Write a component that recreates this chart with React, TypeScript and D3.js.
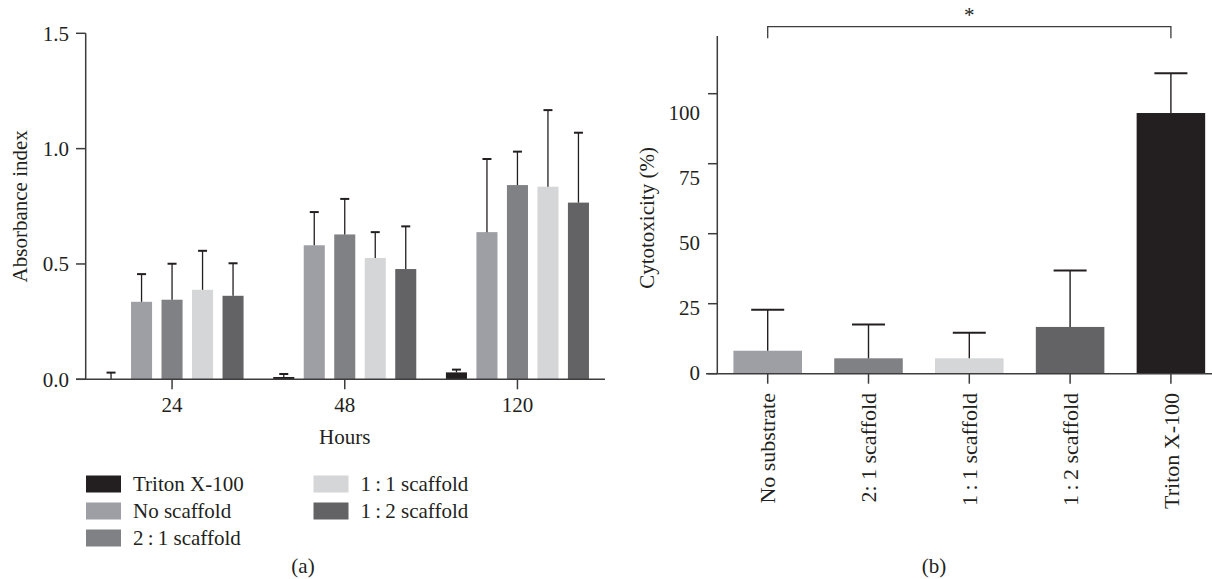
import React from "react";
import * as d3 from "d3";

// ---------- Panel (a) data ----------
const hours = ["24", "48", "120"];
const seriesA = ["Triton X-100", "No scaffold", "2:1 scaffold", "1:1 scaffold", "1:2 scaffold"];
const legendLabelsA = ["Triton X-100", "No scaffold", "2\u2009:\u20091 scaffold", "1\u2009:\u20091 scaffold", "1\u2009:\u20092 scaffold"];
const colorsA = ["#231f20", "#9d9fa5", "#808184", "#d5d6d8", "#636365"];
// mean values per hour for each series
const meanTriton = [0.0, 0.01, 0.03];
const meanNoScaffold = [0.336, 0.581, 0.638];
const mean21 = [0.345, 0.628, 0.842];
const mean11 = [0.388, 0.526, 0.835];
const mean12 = [0.362, 0.478, 0.766];
// upper error bar tops
const errTriton = [0.029, 0.023, 0.042];
const errNoScaffold = [0.456, 0.725, 0.955];
const err21 = [0.501, 0.782, 0.987];
const err11 = [0.557, 0.638, 1.167];
const err12 = [0.503, 0.663, 1.069];
const yTicksA = [0, 0.5, 1.0, 1.5];

// ---------- Panel (b) data ----------
const categoriesB = ["No substrate", "2: 1 scaffold", "1\u2009:\u20091 scaffold", "1\u2009:\u20092 scaffold", "Triton X-100"];
const colorsB = ["#9d9fa5", "#808184", "#d5d6d8", "#636365", "#231f20"];
const valuesB = [8.2, 5.5, 5.5, 16.7, 93.1];
const errTopB = [22.8, 17.6, 14.6, 36.9, 107.3];
const yTicksB = [0, 25, 50, 75, 100];

const FONT = "'Liberation Serif', 'Times New Roman', serif";
const TXT = "#231f20";
const AX = "#3c3c3c";

export default function App() {
  const meansA = [meanTriton, meanNoScaffold, mean21, mean11, mean12];
  const errsA = [errTriton, errNoScaffold, err21, err11, err12];

  // Panel (a) scales
  const yA = d3.scaleLinear().domain([0, 1.5]).range([379.3, 33.3]);
  const xG = d3.scaleBand().domain(hours).range([85.7, 603.8]).padding(0);
  const innerW = xG.bandwidth() * 0.883;
  const xS = d3.scaleBand().domain(seriesA).range([0, innerW]).paddingInner(0.31).paddingOuter(0.155);
  const groupStart = (h: string) => (xG(h) as number) + xG.bandwidth() / 2 - innerW / 2;

  // Panel (b) scales
  const yB = d3.scaleLinear().domain([0, 100]).range([373.7, 93.7]);
  const yBLabel = d3.scaleLinear().domain([0, 100]).range([373, 113]);
  const xB = d3.scaleBand().domain(categoriesB).range([717.3, 1221.3]).paddingInner(0.32).paddingOuter(0.16);
  const cB = (c: string) => (xB(c) as number) + xB.bandwidth() / 2;

  const fs = 21;

  return (
    <svg width={1212} height={579} style={{ position: "absolute", left: 0, top: 0, background: "#fff" }} fontFamily={FONT}>
      {/* ===== Panel (a) ===== */}
      <g>
        {seriesA.map((s, si) =>
          hours.map((h, hi) => {
            const x0 = groupStart(h) + (xS(s) as number);
            const w = xS.bandwidth();
            const v = meansA[si][hi];
            const e = errsA[si][hi];
            const cx = x0 + w / 2;
            return (
              <g key={s + h}>
                <rect x={x0} y={yA(v)} width={w} height={Math.max(0, yA(0) - yA(v))} fill={colorsA[si]} />
                <line x1={cx} x2={cx} y1={yA(v)} y2={yA(e)} stroke={TXT} strokeWidth={1.3} />
                <line x1={cx - 4.5} x2={cx + 4.5} y1={yA(e)} y2={yA(e)} stroke={TXT} strokeWidth={2} />
              </g>
            );
          })
        )}
        {/* y axis */}
        <line x1={85.7} x2={85.7} y1={yA(1.5)} y2={yA(0)} stroke={AX} strokeWidth={1.5} />
        {yTicksA.map((t) => (
          <g key={t}>
            <line x1={76} x2={85.7} y1={yA(t)} y2={yA(t)} stroke={AX} strokeWidth={1.5} />
            <text x={69} y={yA(t)} dy="0.35em" textAnchor="end" fontSize={fs} fill={TXT}>
              {d3.format(".1f")(t)}
            </text>
          </g>
        ))}
        {/* x axis */}
        <line x1={76} x2={605} y1={yA(0)} y2={yA(0)} stroke={AX} strokeWidth={1.5} />
        {hours.map((h) => {
          const cx = (xG(h) as number) + xG.bandwidth() / 2;
          return (
            <g key={h}>
              <line x1={cx} x2={cx} y1={yA(0)} y2={yA(0) + 10} stroke={AX} strokeWidth={1.5} />
              <text x={cx} y={412} textAnchor="middle" fontSize={fs} fill={TXT}>
                {h}
              </text>
            </g>
          );
        })}
        <text x={(xG("48") as number) + xG.bandwidth() / 2} y={444} textAnchor="middle" fontSize={fs} fill={TXT}>
          Hours
        </text>
        <text transform={`translate(27,${(yA(0) + yA(1.5)) / 2}) rotate(-90)`} textAnchor="middle" fontSize={fs} fill={TXT}>
          Absorbance index
        </text>
        {/* legend */}
        {seriesA.map((s, i) => {
          const col = i < 3 ? 0 : 1;
          const row = i < 3 ? i : i - 3;
          const lx = col === 0 ? 86 : 313.5;
          const ly = 484 + row * 27;
          return (
            <g key={s}>
              <rect x={lx} y={ly - 8.5} width={35} height={17} fill={colorsA[i]} />
              <text x={lx + 47} y={ly} dy="0.33em" fontSize={fs} fill={TXT}>
                {legendLabelsA[i]}
              </text>
            </g>
          );
        })}
        <text x={303} y={573} textAnchor="middle" fontSize={fs} fill={TXT}>
          (a)
        </text>
      </g>

      {/* ===== Panel (b) ===== */}
      <g>
        {categoriesB.map((c, i) => {
          const x0 = xB(c) as number;
          const w = xB.bandwidth();
          const cx = cB(c);
          return (
            <g key={c}>
              <rect x={x0} y={yB(valuesB[i])} width={w} height={yB(0) - yB(valuesB[i])} fill={colorsB[i]} />
              <line x1={cx} x2={cx} y1={yB(valuesB[i])} y2={yB(errTopB[i])} stroke={TXT} strokeWidth={1.4} />
              <line x1={cx - 16.5} x2={cx + 16.5} y1={yB(errTopB[i])} y2={yB(errTopB[i])} stroke={TXT} strokeWidth={2} />
            </g>
          );
        })}
        {/* y axis */}
        <line x1={717.3} x2={717.3} y1={36} y2={yB(0)} stroke={AX} strokeWidth={1.5} />
        {yTicksB.map((t) => (
          <g key={t}>
            <line x1={708} x2={717.3} y1={yB(t)} y2={yB(t)} stroke={AX} strokeWidth={1.5} />
            <text x={700} y={yBLabel(t)} dy="0.35em" textAnchor="end" fontSize={fs} fill={TXT}>
              {t}
            </text>
          </g>
        ))}
        {/* x axis */}
        <line x1={706} x2={1212} y1={yB(0)} y2={yB(0)} stroke={AX} strokeWidth={1.5} />
        {categoriesB.map((c) => {
          const cx = cB(c);
          return (
            <g key={c}>
              <line x1={cx} x2={cx} y1={yB(0)} y2={yB(0) + 10} stroke={AX} strokeWidth={1.5} />
              <text transform={`translate(${cx},${393}) rotate(-90)`} dy="0.35em" textAnchor="end" fontSize={22} fill={TXT}>
                {c}
              </text>
            </g>
          );
        })}
        <text transform={`translate(654,218) rotate(-90)`} textAnchor="middle" fontSize={fs} fill={TXT}>
          Cytotoxicity (%)
        </text>
        {/* significance bracket */}
        <path
          d={`M${cB(categoriesB[0])},38.3 V26.7 H${cB(categoriesB[4])} V38.3`}
          fill="none"
          stroke={AX}
          strokeWidth={1.3}
        />
        <text x={(cB(categoriesB[0]) + cB(categoriesB[4])) / 2} y={22} textAnchor="middle" fontSize={fs} fill={TXT}>
          *
        </text>
        <text x={934} y={573} textAnchor="middle" fontSize={fs} fill={TXT}>
          (b)
        </text>
      </g>
    </svg>
  );
}
